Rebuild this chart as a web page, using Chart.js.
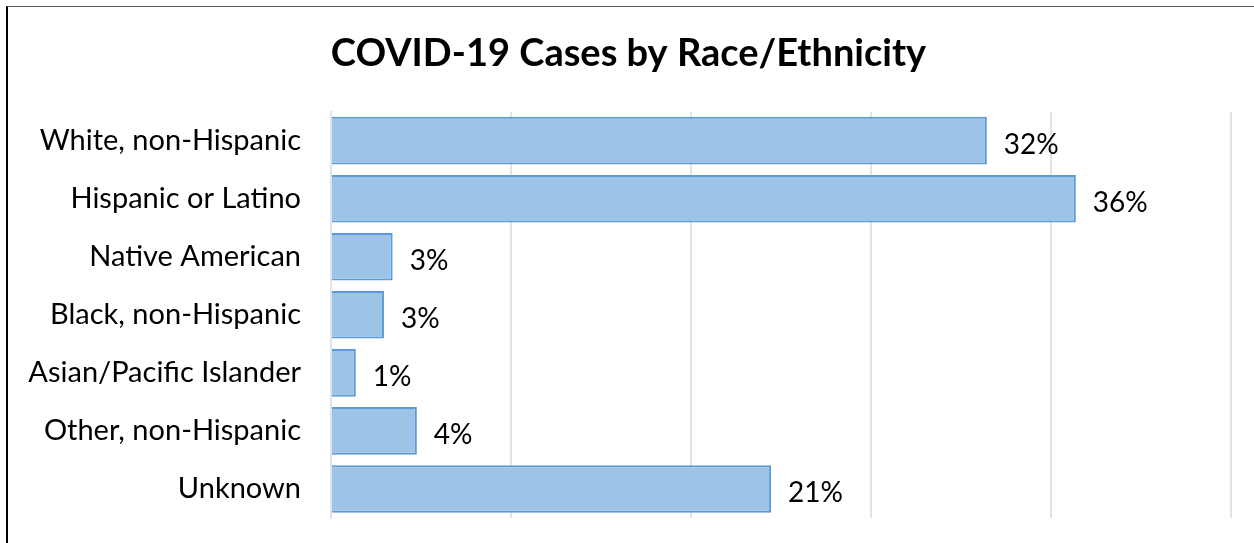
<!DOCTYPE html>
<html>
<head>
<meta charset="utf-8">
<script src="https://cdn.jsdelivr.net/npm/chart.js@4/dist/chart.umd.min.js"></script>
<style>
  body { margin: 0; background: #fff; overflow: hidden; }
  #frame {
    position: absolute; left: 6px; top: 6px; width: 1300px; height: 600px;
    border-left: 2px solid #000; border-top: 1px solid #555;
  }
  #wrap { position: absolute; left: 0; top: 0; width: 1254px; height: 543px; }
</style>
</head>
<body>
<div id="frame"></div>
<div id="wrap"><canvas id="raceChart"></canvas></div>
<script>
const categories = ["White, non-Hispanic", "Hispanic or Latino", "Native American",
    "Black, non-Hispanic", "Asian/Pacific Islander", "Other, non-Hispanic", "Unknown"];
const shares = [31.7, 36.0, 2.98, 2.56, 1.2, 4.15, 21.27];
const shareLabels = ["32%", "36%", "3%", "3%", "1%", "4%", "21%"];

const FONT = "Lato, 'Open Sans', sans-serif";

// draws the % labels just right of each bar
const barLabels = {
    id: 'barLabels',
    afterDatasetsDraw(chart) {
        const ctx = chart.ctx;
        const meta = chart.getDatasetMeta(0);
        ctx.save();
        ctx.font = "28px " + FONT;
        ctx.fillStyle = '#000';
        ctx.textAlign = 'left';
        ctx.textBaseline = 'middle';
        meta.data.forEach((bar, i) => {
            ctx.fillText(shareLabels[i], bar.x + 17, bar.y + 4);
        });
        ctx.restore();
    }
};

const data = {
    labels: categories,
    datasets: [{
        data: shares,
        backgroundColor: '#9dc3e6',
        borderColor: '#5b9bd5',
        borderWidth: 2,
        borderSkipped: 'left',
        barPercentage: 0.82,
        categoryPercentage: 1
    }]
};

const config = {
    type: 'bar',
    data: data,
    plugins: [barLabels],
    options: {
        indexAxis: 'y',
        responsive: true,
        maintainAspectRatio: false,
        animation: false,
        layout: {
            padding: { left: 26, right: 23, top: 0, bottom: 25 }
        },
        plugins: {
            legend: false,
            tooltip: { enabled: false },
            title: {
                display: true,
                text: 'COVID-19 Cases by Race/Ethnicity',
                color: '#000',
                font: { family: FONT, size: 38, weight: 'bold' },
                padding: { top: 31, bottom: 35 }
            }
        },
        scales: {
            x: {
                min: 0,
                max: 43.5,
                ticks: { display: false, stepSize: 8.7 },
                grid: { color: '#dfe3ea', lineWidth: 2, drawTicks: false },
                border: { display: false },
                afterFit(scale) { scale.height = 0; }
            },
            y: {
                ticks: {
                    color: '#000',
                    font: { family: FONT, size: 29 },
                    padding: 0
                },
                // invisible tick marks give the gap between labels and bars
                grid: { display: false, drawTicks: true, tickLength: 30 },
                border: { color: '#dfe3ea', width: 2 },
                afterFit(scale) { scale.width = 305; }
            }
        }
    }
};

const raceChart = new Chart(document.getElementById("raceChart"), config);
</script>
</body>
</html>
